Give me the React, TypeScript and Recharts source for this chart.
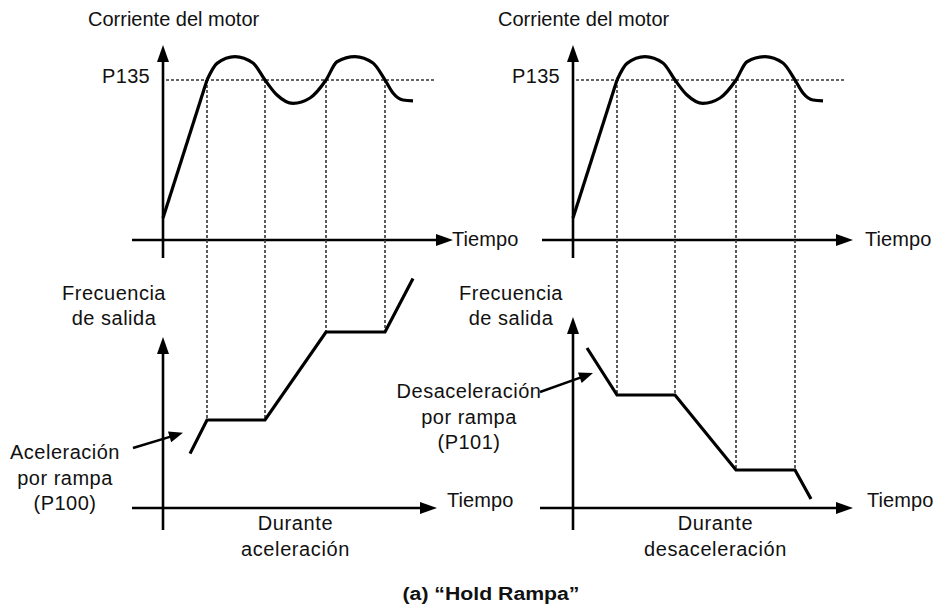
import React from 'react';
import { LineChart, Line, XAxis, YAxis, ReferenceLine, ReferenceDot } from 'recharts';

const W = 939;
const H = 608;

// ---- axis domains (time units, motor current in % of P135, output frequency) ----
const TIME_L: [number, number] = [-16.3, 77.6];
const TIME_R: [number, number] = [-57.3, 36.6];
const CUR_DOMAIN: [number, number] = [-230, 150];
const FREQ_DOMAIN: [number, number] = [-25, 127];

// ---- data ----
const P135_LEVEL = 100;
const holdTimes = [4.4, 10.2, 16.3, 22.2];

const currentRamp = [
  { t: 0, v: 13.75 },
  { t: 4.4, v: 100 },
];
const currentWave = [
  { t: 4.4, v: 100 },
  { t: 5.4, v: 110.4 },
  { t: 7.2, v: 114.6 },
  { t: 9.0, v: 110.6 },
  { t: 10.2, v: 100 },
  { t: 11.4, v: 90.6 },
  { t: 13.0, v: 85.4 },
  { t: 14.7, v: 88.75 },
  { t: 16.3, v: 100 },
  { t: 17.4, v: 111.4 },
  { t: 19.2, v: 114.6 },
  { t: 21.0, v: 110.6 },
  { t: 22.2, v: 100 },
  { t: 23.0, v: 91.9 },
  { t: 24.0, v: 87.5 },
  { t: 25.0, v: 86.9 },
];
const freqAccel = [
  { t: 2.7, v: 13.6 },
  { t: 4.4, v: 22 },
  { t: 10.2, v: 22 },
  { t: 16.3, v: 44 },
  { t: 22.2, v: 44 },
  { t: 25.0, v: 57.4 },
];
const freqDecel = [
  { t: 1.4, v: 40 },
  { t: 4.4, v: 28.25 },
  { t: 10.2, v: 28.25 },
  { t: 16.3, v: 9.5 },
  { t: 22.2, v: 9.5 },
  { t: 23.8, v: 2.25 },
];

// ---- texts ----
const titleText = 'Corriente del motor';
const p135Text = 'P135';
const timeText = 'Tiempo';
const freqTitle = ['Frecuencia', 'de salida'];
const accelNote = ['Aceleración', 'por rampa', '(P100)'];
const decelNote = ['Desaceleración', 'por rampa', '(P101)'];
const accelCaption = ['Durante', 'aceleración'];
const decelCaption = ['Durante', 'desaceleración'];
const figureCaption = '(a) “Hold Rampa”';

const FONT = '"Liberation Sans", Arial, Helvetica, sans-serif';
const INK = '#000';

// map a current-axis value to the frequency axis (same pixel height)
const curToFreq = (c: number) =>
  FREQ_DOMAIN[0] +
  ((c - CUR_DOMAIN[0]) / (CUR_DOMAIN[1] - CUR_DOMAIN[0])) * (FREQ_DOMAIN[1] - FREQ_DOMAIN[0]);

const arrowShape = (len: number, half: number, width: number) => (p: any) => {
  const { x1, y1, x2, y2 } = p;
  const dx = x2 - x1;
  const dy = y2 - y1;
  const L = Math.hypot(dx, dy) || 1;
  const ux = dx / L;
  const uy = dy / L;
  const bx = x2 - ux * len;
  const by = y2 - uy * len;
  const nx = -uy;
  const ny = ux;
  return (
    <g>
      <line x1={x1} y1={y1} x2={bx + ux * 2} y2={by + uy * 2} stroke={INK} strokeWidth={width} />
      <polygon
        points={`${x2},${y2} ${bx + nx * half},${by + ny * half} ${bx - nx * half},${by - ny * half}`}
        fill={INK}
      />
    </g>
  );
};

type TextOpts = {
  size?: number;
  bold?: boolean;
  spacing?: number;
  lh?: number;
  length?: number;
};

const textShape =
  (lines: string[], anchor: 'start' | 'middle' | 'end', o: TextOpts = {}) =>
  (p: any) => {
    const { size = 20, bold = false, spacing = 0, lh = 25.7, length } = o;
    return (
      <text
        x={p.cx}
        y={p.cy}
        textAnchor={anchor}
        fontFamily={FONT}
        fontSize={size}
        fontWeight={bold ? 'bold' : 'normal'}
        letterSpacing={spacing}
        fill="#111"
        {...(length ? { textLength: length, lengthAdjust: 'spacingAndGlyphs' } : {})}
      >
        {lines.map((s, i) => (
          <tspan key={i} x={p.cx} dy={i === 0 ? 0 : lh}>
            {s}
          </tspan>
        ))}
      </text>
    );
  };

type SideLayout = {
  id: 'L' | 'R';
  freq: { t: number; v: number }[];
  vAxisFreqTop: number;
  hAxisBottom: [number, number];
  hAxisTop: [number, number];
  timeTopT: number;
  timeBottomT: number;
  freqTitleT: number;
  note: string[];
  noteT: number;
  noteF: number;
  noteArrow: [number, number, number, number];
  caption: string[];
  captionT: number;
};

const sides: SideLayout[] = [
  {
    id: 'L',
    freq: freqAccel,
    vAxisFreqTop: 42.75,
    hAxisBottom: [-3.1, 27.4],
    hAxisTop: [-3.1, 29.0],
    timeTopT: 28.9,
    timeBottomT: 28.4,
    freqTitleT: -4.9,
    note: accelNote,
    noteT: -9.8,
    noteF: 12.25,
    noteArrow: [-3.0, 15, 2.0, 18.8],
    caption: accelCaption,
    captionT: 13.25,
  },
  {
    id: 'R',
    freq: freqDecel,
    vAxisFreqTop: 47.75,
    hAxisBottom: [-3.3, 28.0],
    hAxisTop: [-3.1, 28.0],
    timeTopT: 29.2,
    timeBottomT: 29.4,
    freqTitleT: -6.2,
    note: decelNote,
    noteT: -10.4,
    noteF: 27.5,
    noteArrow: [-3.3, 29, 2.0, 33.75],
    caption: decelCaption,
    captionT: 14.25,
  },
];

const renderSide = (s: SideLayout) => {
  const x = s.id;
  const out: React.ReactNode[] = [];
  const axisArrow = arrowShape(17, 6, 2.6);
  // axes
  out.push(
    <ReferenceLine key={x + 'ha'} xAxisId={x} yAxisId="cur" ifOverflow="visible"
      segment={[{ x: s.hAxisTop[0], y: 0 }, { x: s.hAxisTop[1], y: 0 }]} shape={axisArrow} />,
    <ReferenceLine key={x + 'va'} xAxisId={x} yAxisId="cur" ifOverflow="visible"
      segment={[{ x: 0, y: -11.25 }, { x: 0, y: 121.9 }]} shape={axisArrow} />,
    <ReferenceLine key={x + 'hb'} xAxisId={x} yAxisId="freq" ifOverflow="visible"
      segment={[{ x: s.hAxisBottom[0], y: 0 }, { x: s.hAxisBottom[1], y: 0 }]} shape={axisArrow} />,
    <ReferenceLine key={x + 'vb'} xAxisId={x} yAxisId="freq" ifOverflow="visible"
      segment={[{ x: 0, y: -5.5 }, { x: 0, y: s.vAxisFreqTop }]} shape={axisArrow} />,
  );
  // P135 dotted level
  out.push(
    <ReferenceLine key={x + 'p135'} xAxisId={x} yAxisId="cur" ifOverflow="visible"
      segment={[{ x: 0.3, y: P135_LEVEL }, { x: 27.2, y: P135_LEVEL }]}
      stroke="#333" strokeWidth={1.6} strokeDasharray="3 2" />,
  );
  // vertical dotted lines from P135 crossings down to the held frequency
  holdTimes.forEach((ht, i) => {
    const pt = s.freq.find((d) => Math.abs(d.t - ht) < 1e-6);
    const fv = pt ? pt.v : 0;
    out.push(
      <ReferenceLine key={x + 'hold' + i} xAxisId={x} yAxisId="freq" ifOverflow="visible"
        segment={[{ x: ht, y: curToFreq(P135_LEVEL) }, { x: ht, y: fv }]}
        stroke="#333" strokeWidth={1.6} strokeDasharray="3 2" />,
    );
  });
  // note arrow
  out.push(
    <ReferenceLine key={x + 'na'} xAxisId={x} yAxisId="freq" ifOverflow="visible"
      segment={[{ x: s.noteArrow[0], y: s.noteArrow[1] }, { x: s.noteArrow[2], y: s.noteArrow[3] }]}
      shape={arrowShape(14, 5.5, 2.4)} />,
  );
  // series
  out.push(
    <Line key={x + 'cr'} xAxisId={x} yAxisId="cur" data={currentRamp} dataKey="v" type="linear"
      stroke={INK} strokeWidth={3.2} dot={false} activeDot={false} isAnimationActive={false} />,
    <Line key={x + 'cw'} xAxisId={x} yAxisId="cur" data={currentWave} dataKey="v" type="monotone"
      stroke={INK} strokeWidth={3.2} dot={false} activeDot={false} isAnimationActive={false} />,
    <Line key={x + 'fq'} xAxisId={x} yAxisId="freq" data={s.freq} dataKey="v" type="linear"
      stroke={INK} strokeWidth={3.2} dot={false} activeDot={false} isAnimationActive={false} />,
  );
  // texts
  out.push(
    <ReferenceDot key={x + 't1'} xAxisId={x} yAxisId="cur" x={-7.5} y={133.75} r={0} ifOverflow="visible"
      shape={textShape([titleText], 'start')} />,
    <ReferenceDot key={x + 't2'} xAxisId={x} yAxisId="cur" x={-1.3} y={98.1} r={0} ifOverflow="visible"
      shape={textShape([p135Text], 'end', { spacing: 0.3 })} />,
    <ReferenceDot key={x + 't3'} xAxisId={x} yAxisId="cur" x={s.timeTopT} y={-3.75} r={0} ifOverflow="visible"
      shape={textShape([timeText], 'start', { spacing: 0.1 })} />,
    <ReferenceDot key={x + 't4'} xAxisId={x} yAxisId="freq" x={s.timeBottomT} y={0.25} r={0} ifOverflow="visible"
      shape={textShape([timeText], 'start', { spacing: 0.1 })} />,
    <ReferenceDot key={x + 't5'} xAxisId={x} yAxisId="freq" x={s.freqTitleT} y={52} r={0} ifOverflow="visible"
      shape={textShape(freqTitle, 'middle', { spacing: 0.5, lh: 25 })} />,
    <ReferenceDot key={x + 't6'} xAxisId={x} yAxisId="freq" x={s.noteT} y={s.noteF} r={0} ifOverflow="visible"
      shape={textShape(s.note, 'middle', { spacing: 0.5 })} />,
    <ReferenceDot key={x + 't7'} xAxisId={x} yAxisId="freq" x={s.captionT} y={-5.5} r={0} ifOverflow="visible"
      shape={textShape(s.caption, 'middle', { spacing: 0.6, lh: 26 })} />,
  );
  return out;
};

export default function App() {
  return (
    <div style={{ position: 'absolute', left: 0, top: 0, width: W, height: H, background: '#fff' }}>
      <LineChart width={W} height={H} margin={{ top: 0, right: 0, bottom: 0, left: 0 }}>
        <XAxis xAxisId="L" dataKey="t" type="number" domain={TIME_L} allowDataOverflow hide />
        <XAxis xAxisId="R" dataKey="t" type="number" domain={TIME_R} allowDataOverflow hide />
        <YAxis yAxisId="cur" type="number" domain={CUR_DOMAIN} allowDataOverflow hide />
        <YAxis yAxisId="freq" type="number" domain={FREQ_DOMAIN} allowDataOverflow hide />
        {renderSide(sides[0])}
        {renderSide(sides[1])}
        <ReferenceDot xAxisId="L" yAxisId="freq" x={32.8} y={-23} r={0} ifOverflow="visible"
          shape={textShape([figureCaption], 'middle', { size: 17.5, bold: true, length: 177 })} />
      </LineChart>
    </div>
  );
}
